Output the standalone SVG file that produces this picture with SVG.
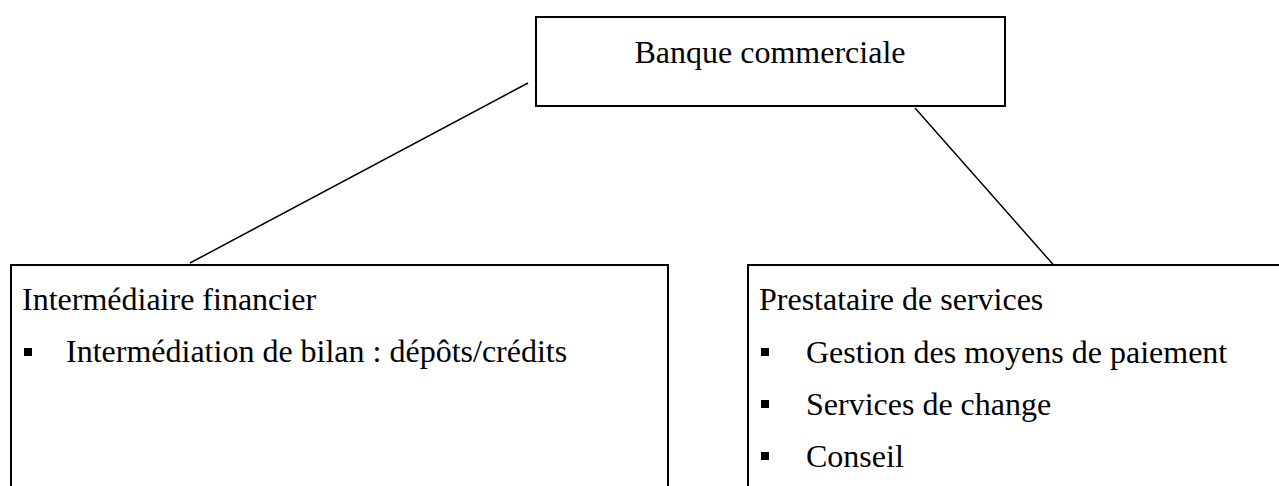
<svg xmlns="http://www.w3.org/2000/svg" width="1279" height="486" viewBox="0 0 1279 486">
<style>
.box{fill:#fff;stroke:#000;stroke-width:2}
.t{font-family:"Liberation Serif","Times New Roman",serif;font-size:32px;fill:#000}
.b{fill:#000}
.c{stroke:#000;stroke-width:1.5;fill:none}
</style>
<rect width="1279" height="486" fill="#fff"/>
<g id="connectors">
<line class="c" x1="190" y1="263" x2="528" y2="83"/>
<line class="c" x1="915" y1="108" x2="1058" y2="270"/>
</g>
<g id="banque">
<rect class="box" x="536" y="17" width="469" height="89"/>
<text class="t" x="770" y="63" text-anchor="middle">Banque commerciale</text>
</g>
<g id="intermediaire">
<rect class="box" x="11" y="265" width="657" height="240"/>
<text class="t" x="22" y="310">Intermédiaire financier</text>
<rect class="b" x="24" y="348" width="8" height="8"/>
<text class="t" x="66" y="362">Intermédiation de bilan : dépôts/crédits</text>
</g>
<g id="prestataire">
<rect class="box" x="748" y="265" width="560" height="240"/>
<text class="t" x="759" y="310">Prestataire de services</text>
<rect class="b" x="761" y="348" width="8" height="8"/>
<text class="t" x="806" y="363">Gestion des moyens de paiement</text>
<rect class="b" x="761" y="400" width="8" height="8"/>
<text class="t" x="806" y="415">Services de change</text>
<rect class="b" x="761" y="452" width="8" height="8"/>
<text class="t" x="806" y="467">Conseil</text>
</g>
</svg>
